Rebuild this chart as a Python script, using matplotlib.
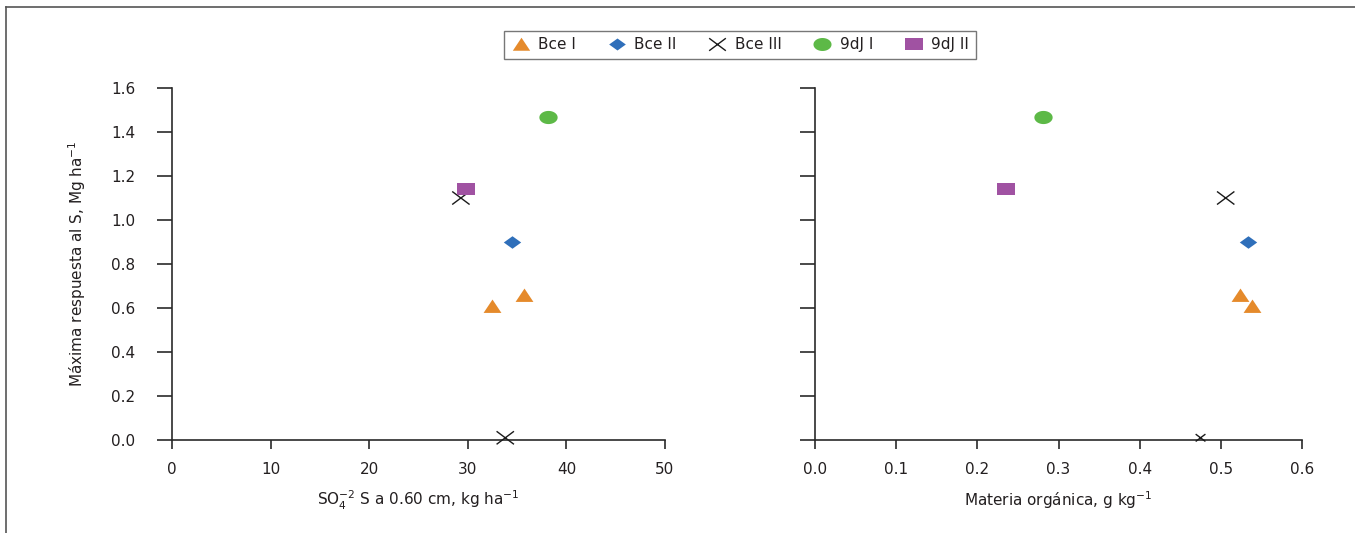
import matplotlib
matplotlib.use("Agg")
import matplotlib.pyplot as plt
import numpy as np
from matplotlib.path import Path
from matplotlib.lines import Line2D

# ---- data ----
series_names = ["Bce I", "Bce II", "Bce III", "9dJ I", "9dJ II"]
so4_bce1 = [32.5, 35.7]
mo_bce1 = [0.538, 0.523]
resp_bce1 = [0.61, 0.66]
so4_bce2 = [34.5]
mo_bce2 = [0.534]
resp_bce2 = [0.90]
so4_bce3 = [29.3, 33.8]
mo_bce3 = [0.506, 0.475]
resp_bce3 = [1.10, 0.01]
so4_9dj1 = [38.1]
mo_9dj1 = [0.281]
resp_9dj1 = [1.47]
so4_9dj2 = [29.8]
mo_9dj2 = [0.235]
resp_9dj2 = [1.14]

left_xticks = [0, 10, 20, 30, 40, 50]
right_xticks = [0.0, 0.1, 0.2, 0.3, 0.4, 0.5, 0.6]
yticks = [0.0, 0.2, 0.4, 0.6, 0.8, 1.0, 1.2, 1.4, 1.6]

# ---- style ----
plt.rcParams['font.family'] = ['DejaVu Sans']
plt.rcParams['mathtext.fontset'] = 'dejavusans'
plt.rcParams['mathtext.default'] = 'regular'
TXT = '#231F20'
C_ORANGE = '#E58A2B'
C_BLUE = '#2F6FBA'
C_GREEN = '#5DB947'
C_PURPLE = '#A052A2'
FS = 11

tri = Path([(-1, -0.72), (1, -0.72), (0, 0.78), (-1, -0.72)], closed=True)
dia = Path([(-1, 0), (0, 0.72), (1, 0), (0, -0.72), (-1, 0)], closed=True)
th = np.linspace(0, 2 * np.pi, 60)
ell = Path(np.column_stack([np.cos(th), 0.72 * np.sin(th)]), closed=True)
sq = Path([(-1, -0.72), (1, -0.72), (1, 0.72), (-1, 0.72), (-1, -0.72)], closed=True)
xm = Path([(-1, -0.75), (1, 0.75), (-1, 0.75), (1, -0.75)],
          [Path.MOVETO, Path.LINETO, Path.MOVETO, Path.LINETO])

fig = plt.figure(figsize=(13.55, 5.33), dpi=100)
axL = fig.add_axes([172/1355, 1-440/533, (665-172)/1355, (440-88)/533])
axR = fig.add_axes([815/1355, 1-440/533, (1302-815)/1355, (440-88)/533])

S = 165

def draw(ax, xb1, xb2, xb3, xd1, xd2, small_last_x=False):
    ax.scatter(xb1, resp_bce1, marker=tri, s=S, color=C_ORANGE, linewidths=0, zorder=3)
    ax.scatter(xb2, resp_bce2, marker=dia, s=S*0.95, color=C_BLUE, linewidths=0, zorder=3)
    sizes = [S*0.95, S*0.3 if small_last_x else S*0.95]
    ax.scatter(xb3, resp_bce3, marker=xm, s=sizes, facecolors='none',
               edgecolors='#1a1a1a', linewidths=1.0, zorder=3)
    ax.scatter(xd1, resp_9dj1, marker=ell, s=S*1.05, color=C_GREEN, linewidths=0, zorder=3)
    ax.scatter(xd2, resp_9dj2, marker=sq, s=S*1.0, color=C_PURPLE, linewidths=0, zorder=3)

draw(axL, so4_bce1, so4_bce2, so4_bce3, so4_9dj1, so4_9dj2)
draw(axR, mo_bce1, mo_bce2, mo_bce3, mo_9dj1, mo_9dj2, small_last_x=True)

for ax, xt, fmt in [(axL, left_xticks, '{:d}'), (axR, right_xticks, '{:.1f}')]:
    ax.set_xlim(xt[0], xt[-1])
    ax.set_ylim(0, 1.6)
    ax.set_xticks(xt)
    ax.set_xticklabels([fmt.format(v) for v in xt])
    ax.set_yticks(yticks)
    for s in ['top', 'right']:
        ax.spines[s].set_visible(False)
    for s in ['left', 'bottom']:
        ax.spines[s].set_linewidth(1.2)
        ax.spines[s].set_color('#2a2a2a')
    ax.tick_params(axis='y', direction='out', length=10.5, width=1.2, color='#2a2a2a',
                   labelsize=FS, labelcolor=TXT, pad=16)
    ax.tick_params(axis='x', direction='out', length=6.5, width=1.2, color='#2a2a2a',
                   labelsize=FS, labelcolor=TXT, pad=9)
    for c in ax.collections:
        c.set_clip_on(False)

axL.set_yticklabels(['{:.1f}'.format(v) for v in yticks])
axR.set_yticklabels([])
axL.set_ylabel('Máxima respuesta al S, Mg ha$^{-1}$', fontsize=FS, color=TXT)
axL.yaxis.set_label_coords((88 - 172) / 493, 0.5)
axL.set_xlabel('SO$_4^{-2}$ S a 0.60 cm, kg ha$^{-1}$', fontsize=FS, color=TXT, labelpad=9)
axR.set_xlabel('Materia orgánica, g kg$^{-1}$', fontsize=FS, color=TXT, labelpad=9)

handles = [
    Line2D([], [], linestyle='none', marker=tri, markersize=12.5, color=C_ORANGE, markeredgewidth=0),
    Line2D([], [], linestyle='none', marker=dia, markersize=12, color=C_BLUE, markeredgewidth=0),
    Line2D([], [], linestyle='none', marker=xm, markersize=12, markerfacecolor='none',
           markeredgecolor='#1a1a1a', markeredgewidth=1.0),
    Line2D([], [], linestyle='none', marker=ell, markersize=13, color=C_GREEN, markeredgewidth=0),
    Line2D([], [], linestyle='none', marker=sq, markersize=12.5, color=C_PURPLE, markeredgewidth=0),
]
leg = fig.legend(handles, series_names, loc='center', bbox_to_anchor=(740/1355, 1-45/533),
                 ncol=5, frameon=True, fancybox=False, fontsize=FS,
                 handlelength=1.3, handletextpad=0.5, columnspacing=2.0,
                 borderpad=0.45, labelcolor=TXT)
leg.get_frame().set_edgecolor('#555555')
leg.get_frame().set_linewidth(1.0)

# outer frame (top and left edges)
fig.add_artist(Line2D([6/1355, 6/1355], [0, 1-7/533], transform=fig.transFigure,
                      color='#555555', linewidth=1.2))
fig.add_artist(Line2D([6/1355, 1], [1-7/533, 1-7/533], transform=fig.transFigure,
                      color='#555555', linewidth=1.2))

fig.savefig('out.png', dpi=100, facecolor='white')
